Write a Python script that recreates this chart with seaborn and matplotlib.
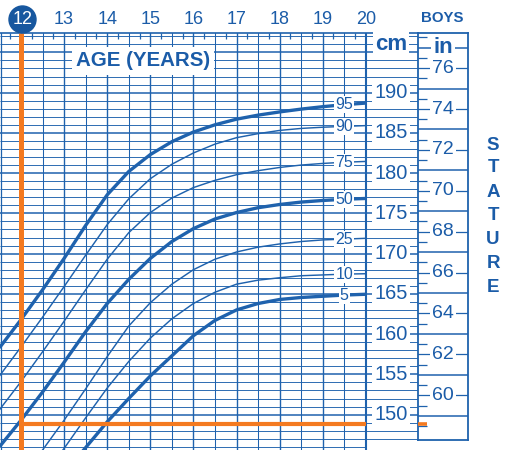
import numpy as np
import pandas as pd
import matplotlib
matplotlib.use("Agg")
import matplotlib.pyplot as plt
import seaborn as sns
from matplotlib.patches import Ellipse

# ---------------- data ----------------
ages = [11.5, 12.0, 12.5, 13.0, 13.5, 14.0, 14.5, 15.0, 15.5, 16.0,
        16.5, 17.0, 17.5, 18.0, 18.5, 19.0, 19.5, 20.0]
p95 = [158.3, 161.8, 165.5, 169.4, 173.5, 177.3, 180.2, 182.3, 183.9, 185.1,
       186.0, 186.7, 187.2, 187.6, 187.95, 188.25, 188.5, 188.7]
p90 = [154.8, 158.4, 162.1, 165.9, 169.8, 173.6, 176.8, 179.3, 181.1, 182.5,
       183.6, 184.4, 184.9, 185.3, 185.55, 185.7, 185.8, 185.9]
p75 = [150.6, 154.1, 157.8, 161.6, 165.5, 169.3, 172.6, 175.1, 176.9, 178.2,
       179.1, 179.8, 180.3, 180.7, 181.0, 181.2, 181.35, 181.45]
p50 = [146.0, 149.3, 152.8, 156.5, 160.3, 163.8, 166.8, 169.4, 171.5, 173.1,
       174.3, 175.1, 175.7, 176.1, 176.4, 176.6, 176.75, 176.85]
p25 = [139.3, 142.3, 145.6, 149.3, 153.2, 157.2, 161.0, 163.9, 166.2, 168.0,
       169.3, 170.2, 170.8, 171.2, 171.5, 171.7, 171.8, 171.9]
p10 = [136.3, 139.2, 142.3, 145.8, 149.6, 153.3, 156.6, 159.5, 161.9, 163.8,
       165.2, 166.2, 166.7, 167.0, 167.25, 167.35, 167.45, 167.5]
p5 = [134.5, 137.0, 139.8, 142.7, 145.9, 149.1, 152.0, 154.8, 157.3, 159.8,
      161.7, 163.0, 163.8, 164.3, 164.55, 164.7, 164.85, 164.95]
percentiles = {"95": p95, "90": p90, "75": p75, "50": p50, "25": p25, "10": p10, "5": p5}
thick_pcts = ["95", "50", "5"]

age_ticks = [12, 13, 14, 15, 16, 17, 18, 19, 20]
cm_labels = [150, 155, 160, 165, 170, 175, 180, 185, 190]
inch_labels = [60, 62, 64, 66, 68, 70, 72, 74, 76]
marker_age = 12.0
marker_cm = 148.8
side_title = "STATURE"

# ---------------- style ----------------
sns.set_style("white")
plt.rcParams["font.family"] = ["Liberation Sans", "DejaVu Sans"]

BLUE = "#1f62ad"
TXT = "#1b5ca8"
DARK = "#17579f"
ORANGE = "#f47a20"

W, H = 511, 450
fig = plt.figure(figsize=(W / 100, H / 100), dpi=100)
fig.patch.set_facecolor("white")


def rect(x0, y0, x1, y1):
    return [x0 / W, 1 - y1 / H, (x1 - x0) / W, (y1 - y0) / H]


PX_YR = 43.1
X12 = 21.0
PX_CM = 8.05
Y150 = 414.6


def age_at(px):
    return 12 + (px - X12) / PX_YR


def cm_at(py):
    return 150 + (Y150 - py) / PX_CM


ax = fig.add_axes(rect(0, 33, 418, 450))
xlo, xhi = age_at(0), age_at(418)
ylo, yhi = cm_at(450), cm_at(33)
ax.set_xlim(xlo, xhi)
ax.set_ylim(ylo, yhi)
ax.set_facecolor("white")

# grid: horizontal every cm
for c in range(146, 198):
    xmax = 20.0 if c < 147 else xhi
    lw = 1.1 if c % 5 == 0 else 0.65
    ax.hlines(c, xlo, xmax, color=BLUE, lw=lw, zorder=1)
# vertical every half year
for a in np.arange(12.0, 20.01, 0.5):
    lw = 1.5 if a == 20 else (1.0 if a % 1 == 0 else 0.75)
    ax.axvline(a, color=BLUE, lw=lw, zorder=1)
ax.axvline(age_at(0.6), color=BLUE, lw=0.9, zorder=1)

# percentile curves
for name, vals in percentiles.items():
    lw = 2.4 if name in thick_pcts else 1.05
    sns.lineplot(x=ages, y=vals, ax=ax, color=BLUE, lw=lw, legend=False,
                 zorder=3, solid_capstyle="butt", solid_joinstyle="round")
    ax.text(19.5, vals[ages.index(19.5)], name, fontsize=11.5, color=TXT,
            ha="center", va="center", zorder=6,
            bbox=dict(boxstyle="square,pad=0.06", fc="white", ec="none"))

# orange marker lines
ax.vlines(marker_age, ylo, yhi, color=ORANGE, lw=3.6, zorder=5)
ax.hlines(marker_cm, marker_age, 20.0, color=ORANGE, lw=3.0, zorder=5)

# cm labels
cm_x = age_at(391)
for c in cm_labels:
    ax.text(cm_x, c, str(c), fontsize=14.4, color=TXT, ha="center", va="center",
            zorder=6, bbox=dict(boxstyle="square,pad=0.12", fc="white", ec="none"))
ax.text(cm_x, 196, "cm", fontsize=16, fontweight="bold", color=TXT, ha="center",
        va="center", zorder=6,
        bbox=dict(boxstyle="square,pad=0.08", fc="white", ec="none"))

# title
ax.text(age_at(143), cm_at(61), "AGE (YEARS)", fontsize=14.8, fontweight="bold",
        color=TXT, ha="center", va="center", zorder=6,
        bbox=dict(boxstyle="square,pad=0.2", fc="white", ec="none"))

# top age labels
ylab = cm_at(19.5)
for a in age_ticks:
    if a == 12:
        continue
    ax.text(a, ylab, str(a), fontsize=13, color=TXT,
            ha="center", va="center", clip_on=False, zorder=8)
fig.add_artist(Ellipse((22.5 / W, 1 - 19.5 / H), 27 / W, 27 / H,
                       transform=fig.transFigure, color=DARK, zorder=7))
fig.text(22.5 / W, 1 - 19.5 / H, "12", fontsize=13, color="white",
         ha="center", va="center", zorder=9)

# axes styling
ax.set_xlabel("")
ax.set_ylabel("")
ax.set_yticks([])
ax.xaxis.tick_top()
ax.set_xticks(np.arange(11.75, 20.0, 0.5))
ax.tick_params(axis="x", direction="in", length=4, width=0.9, color=BLUE,
               top=True, bottom=False, labeltop=False, labelbottom=False)
for s in ["left", "right", "bottom"]:
    ax.spines[s].set_visible(False)
ax.spines["top"].set_color(BLUE)
ax.spines["top"].set_linewidth(1.2)

# inch box
axi = fig.add_axes(rect(418, 33, 468, 440))
axi.set_xlim(0, 50)
axi.set_ylim(cm_at(440) / 2.54, cm_at(33) / 2.54)
axi.set_facecolor("white")
for inch in range(59, 78):
    axi.axhline(inch, color=BLUE, lw=1.1 if inch % 2 else 0.9, zorder=1)
for inch in np.arange(58.5, 78, 1.0):
    axi.hlines(inch, 0, 9, color=BLUE, lw=0.9, zorder=1)
for inch in inch_labels:
    axi.text(25, inch, str(inch), fontsize=14, color=TXT, ha="center", va="center",
             zorder=6, bbox=dict(boxstyle="square,pad=0.1", fc="white", ec="none"))
axi.text(25, 77, "in", fontsize=16, fontweight="bold", color=TXT, ha="center",
         va="center", zorder=6,
         bbox=dict(boxstyle="square,pad=0.08", fc="white", ec="none"))
axi.hlines(marker_cm / 2.54, 0, 9, color=ORANGE, lw=2.6, zorder=5)
axi.set_xticks([])
axi.set_yticks([])
for s in axi.spines.values():
    s.set_color(BLUE)
    s.set_linewidth(1.3)

# right-side texts
fig.text(442 / W, 1 - 18 / H, "BOYS", fontsize=10.8, fontweight="bold",
         color=TXT, ha="center", va="center")
for ch, yy in zip(side_title, [145, 168, 192, 216, 240, 263, 287]):
    fig.text(493 / W, 1 - yy / H, ch, fontsize=13.5, fontweight="bold",
             color=TXT, ha="center", va="center")

fig.savefig("out.png", dpi=100)
